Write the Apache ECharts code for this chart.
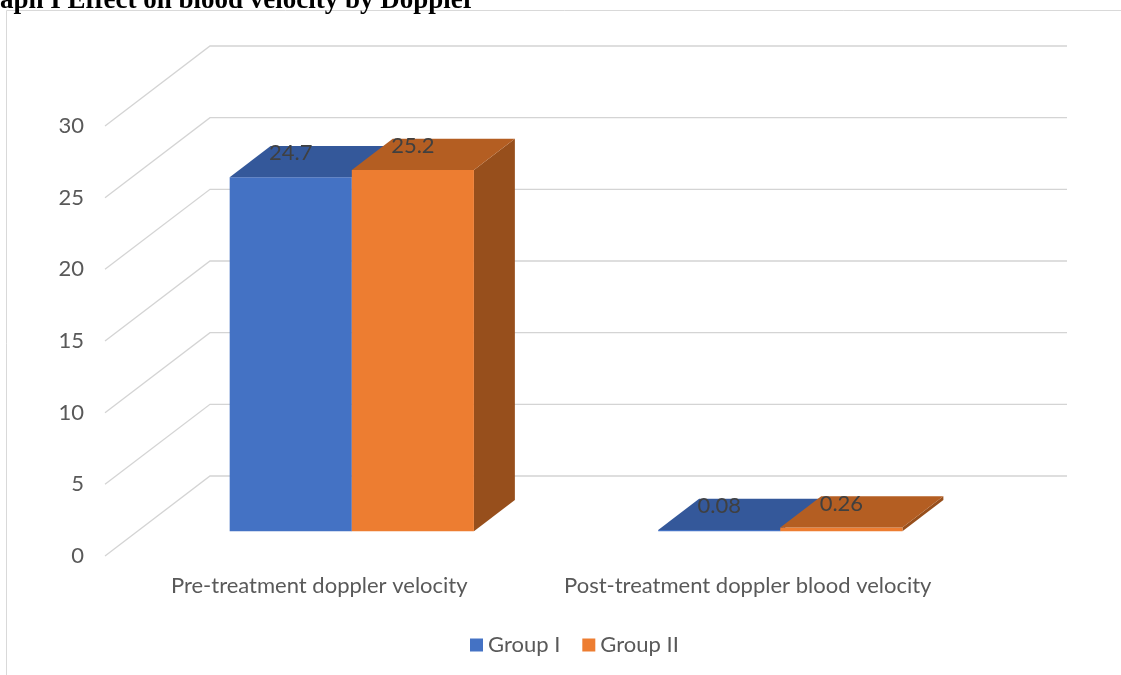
<!DOCTYPE html>
<html>
<head>
<meta charset="utf-8">
<title>Effect on blood velocity by Doppler</title>
<script src="https://cdn.jsdelivr.net/npm/echarts@6/dist/echarts.min.js"></script>
<style>
  html, body { margin: 0; padding: 0; background: #fff; }
  #chart { width: 1121px; height: 675px; }
</style>
</head>
<body>
<div id="chart"></div>
<script>
const categories = ["Pre-treatment doppler velocity", "Post-treatment doppler blood velocity"];
const groupNames = ["Group I", "Group II"];
const groupI = [24.7, 0.08];
const groupII = [25.2, 0.26];
const yTicks = [0, 5, 10, 15, 20, 25, 30];

// depth of the 3d box (px) and where the bars sit in it
const DX = 105, DY = -80;
const F0 = 0.31, BD = 0.39;
const BAR = 0.285;

const front = ["#4472C4", "#ED7D31"];
const topFace = ["#34589A", "#B45E22"];
const sideFace = ["#2F5292", "#974F1C"];
const labelFont = "Lato, 'Liberation Sans', sans-serif";

const myChart = echarts.init(document.getElementById("chart"));

function wallItem(params, api) {
  const v = api.value(1);
  const c = api.coord([0, v]);
  const band = api.size([1, 0])[0];
  const xL = c[0] - band / 2;
  const xR = xL + band * categories.length;
  return {
    type: "polyline",
    shape: { points: [[xL, c[1]], [xL + DX, c[1] + DY], [xR + DX, c[1] + DY]] },
    style: { stroke: "#d4d4d4", lineWidth: 1.3, fill: null }
  };
}

function barRenderer(g) {
  return function(params, api) {
    const i = api.value(0);
    const v = api.value(1);
    const base = api.coord([i, 0]);
    const top = api.coord([i, v]);
    const band = api.size([1, 0])[0];
    const w = band * BAR;
    const x0 = base[0] - w + g * w + DX * F0;
    const yB = base[1] + DY * F0;
    const yT = top[1] + DY * F0;
    const dx = DX * BD, dy = DY * BD;
    return {
      type: "group",
      children: [
        {
          type: "polygon",
          shape: { points: [[x0 + w, yT], [x0 + w + dx, yT + dy], [x0 + w + dx, yB + dy], [x0 + w, yB]] },
          style: { fill: sideFace[g] }
        },
        {
          type: "rect",
          shape: { x: x0, y: yT, width: w, height: Math.max(yB - yT, 0.6) },
          style: { fill: front[g] }
        },
        {
          type: "polygon",
          shape: { points: [[x0, yT], [x0 + w, yT], [x0 + w + dx, yT + dy], [x0 + dx, yT + dy]] },
          style: { fill: topFace[g] }
        },
        {
          type: "text",
          style: {
            text: String(v),
            x: x0 + w / 2,
            y: yT - 24,
            align: "center",
            verticalAlign: "middle",
            fill: "#404040",
            fontSize: 22,
            fontFamily: labelFont
          }
        }
      ]
    };
  };
}

const option = {
  animation: false,
  backgroundColor: "#fff",
  graphic: [
    {
      type: "rect",
      shape: { x: 6.5, y: 10.5, width: 1300, height: 900 },
      style: { fill: null, stroke: "#d9d9d9", lineWidth: 1 },
      silent: true
    },
    {
      type: "text",
      left: 0,
      top: -12,
      style: {
        text: "aph I Effect on blood velocity by Doppler",
        fill: "#000",
        fontSize: 27,
        fontWeight: "bold",
        fontFamily: "'Liberation Serif', 'Times New Roman', serif"
      }
    }
  ],
  grid: {
    left: 105,
    right: 159,
    top: 126,
    bottom: 119
  },
  legend: {
    data: groupNames,
    left: 465,
    top: 629,
    icon: "rect",
    itemWidth: 13,
    itemHeight: 13,
    itemGap: 22,
    textStyle: { color: "#595959", fontSize: 22, fontFamily: labelFont }
  },
  xAxis: {
    type: "category",
    data: categories,
    axisLine: { show: false },
    axisTick: { show: false },
    axisLabel: { interval: 0, margin: 19, color: "#595959", fontSize: 22, fontFamily: labelFont }
  },
  yAxis: {
    type: "value",
    min: 0,
    max: 30,
    interval: 5,
    axisLine: { show: false },
    axisTick: { show: false },
    splitLine: { show: false },
    axisLabel: { margin: 21, color: "#595959", fontSize: 22, fontFamily: labelFont }
  },
  series: [
    {
      name: "wall",
      type: "custom",
      z: 1,
      silent: true,
      renderItem: wallItem,
      data: yTicks.map(v => [0, v])
    },
    {
      name: groupNames[0],
      type: "custom",
      z: 2,
      itemStyle: { color: front[0] },
      renderItem: barRenderer(0),
      data: groupI.map((v, i) => [i, v])
    },
    {
      name: groupNames[1],
      type: "custom",
      z: 3,
      itemStyle: { color: front[1] },
      renderItem: barRenderer(1),
      data: groupII.map((v, i) => [i, v])
    }
  ]
};

myChart.setOption(option);
window.addEventListener("resize", function() {
  myChart.resize();
});
</script>
</body>
</html>
